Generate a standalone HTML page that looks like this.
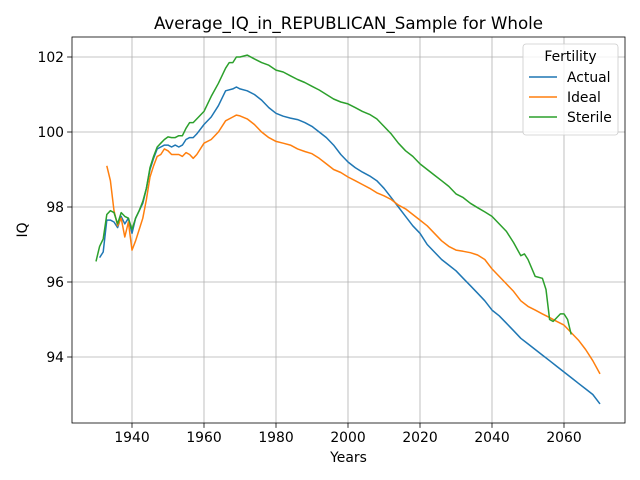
<!DOCTYPE html>
<html><head><meta charset="utf-8"><style>
body{margin:0;background:#fff}
svg{display:block;font-family:"DejaVu Sans","Liberation Sans",sans-serif}
</style></head><body>
<svg id="chart" width="640" height="480" viewBox="0 0 640 480"></svg>
<script>
const actualYears=[1931,1932,1933,1934,1935,1936,1937,1938,1939,1940,1941,1942,1943,1944,1945,1946,1947,1948,1949,1950,1951,1952,1953,1954,1955,1956,1957,1958,1960,1962,1964,1966,1968,1969,1970,1972,1974,1976,1978,1980,1982,1984,1986,1988,1990,1992,1994,1996,1998,2000,2002,2004,2006,2008,2010,2012,2014,2016,2018,2020,2022,2024,2026,2028,2030,2032,2034,2036,2038,2040,2042,2044,2046,2048,2050,2052,2054,2056,2058,2060,2062,2064,2066,2068,2070];
const actualValues=[96.65,96.8,97.65,97.65,97.6,97.45,97.75,97.55,97.7,97.3,97.7,97.9,98.1,98.5,99.0,99.3,99.55,99.6,99.65,99.65,99.6,99.65,99.6,99.65,99.8,99.85,99.85,99.95,100.2,100.4,100.7,101.1,101.15,101.2,101.15,101.1,101.0,100.85,100.65,100.5,100.42,100.37,100.33,100.25,100.15,100.0,99.85,99.65,99.4,99.2,99.05,98.93,98.83,98.7,98.5,98.25,98.0,97.75,97.5,97.3,97.0,96.8,96.6,96.45,96.3,96.1,95.9,95.7,95.5,95.25,95.1,94.9,94.7,94.5,94.35,94.2,94.05,93.9,93.75,93.6,93.45,93.3,93.15,93.0,92.75];
const idealYears=[1933,1934,1935,1936,1937,1938,1939,1940,1941,1942,1943,1944,1945,1946,1947,1948,1949,1950,1951,1952,1953,1954,1955,1956,1957,1958,1960,1962,1964,1966,1968,1969,1970,1972,1974,1976,1978,1980,1982,1984,1986,1988,1990,1992,1994,1996,1998,2000,2002,2004,2006,2008,2010,2012,2014,2016,2018,2020,2022,2024,2026,2028,2030,2032,2034,2036,2038,2040,2042,2044,2046,2048,2050,2052,2054,2056,2058,2060,2062,2064,2066,2068,2070];
const idealValues=[99.1,98.7,97.9,97.5,97.7,97.2,97.6,96.85,97.1,97.4,97.7,98.2,98.8,99.1,99.35,99.4,99.55,99.5,99.4,99.4,99.4,99.35,99.45,99.4,99.3,99.4,99.7,99.8,100.0,100.3,100.4,100.45,100.43,100.35,100.2,100.0,99.85,99.75,99.7,99.65,99.55,99.48,99.42,99.3,99.15,99.0,98.92,98.8,98.7,98.6,98.5,98.38,98.3,98.2,98.05,97.95,97.8,97.65,97.5,97.3,97.1,96.95,96.85,96.82,96.78,96.72,96.6,96.35,96.15,95.95,95.75,95.5,95.35,95.25,95.15,95.05,94.95,94.85,94.65,94.45,94.2,93.9,93.55];
const sterileYears=[1930,1931,1932,1933,1934,1935,1936,1937,1938,1939,1940,1941,1942,1943,1944,1945,1946,1947,1948,1949,1950,1951,1952,1953,1954,1955,1956,1957,1958,1960,1962,1964,1966,1967,1968,1969,1970,1972,1974,1976,1978,1980,1982,1984,1986,1988,1990,1992,1994,1996,1998,2000,2002,2004,2006,2008,2010,2012,2014,2016,2018,2020,2022,2024,2026,2028,2030,2032,2034,2036,2038,2040,2042,2044,2046,2048,2049,2050,2052,2054,2055,2056,2057,2058,2059,2060,2061,2062];
const sterileValues=[96.55,96.95,97.15,97.8,97.9,97.85,97.55,97.85,97.75,97.7,97.4,97.7,97.9,98.15,98.5,99.05,99.35,99.6,99.7,99.8,99.87,99.85,99.85,99.9,99.9,100.1,100.25,100.25,100.35,100.55,100.95,101.3,101.7,101.85,101.85,102.0,102.0,102.05,101.95,101.85,101.78,101.65,101.6,101.5,101.4,101.32,101.22,101.12,101.0,100.88,100.8,100.75,100.65,100.55,100.47,100.35,100.15,99.95,99.7,99.5,99.35,99.15,99.0,98.85,98.7,98.55,98.35,98.25,98.1,97.98,97.87,97.75,97.55,97.35,97.05,96.7,96.75,96.6,96.15,96.1,95.8,95.0,94.95,95.05,95.15,95.15,95.0,94.6];
const xTicks=[1940,1960,1980,2000,2020,2040,2060];
const yTicks=[94,96,98,100,102];
const seriesNames=["Actual","Ideal","Sterile"];

const NS="http://www.w3.org/2000/svg";
const svg=document.getElementById('chart');
const L=72,R=625,T=37,B=423;
const xs=y=>132+(y-1940)*3.6;
const ys=v=>57+(102-v)*37.5;
function el(tag,attrs,parent){const e=document.createElementNS(NS,tag);for(const k in attrs)e.setAttribute(k,attrs[k]);(parent||svg).appendChild(e);return e;}

const grid=el('g',{});


xTicks.forEach(t=>{
  const x=xs(t);
  el('line',{x1:x,x2:x,y1:T,y2:B,stroke:'#b0b0b0','stroke-width':0.8},grid);
  el('line',{x1:x,x2:x,y1:B,y2:B+4.9,stroke:'#000','stroke-width':0.8});
  const tx=el('text',{x:x,y:B+19,'font-size':13.9,'text-anchor':'middle',fill:'#000'});
  tx.textContent=t;
  
  
});
yTicks.forEach(t=>{
  const y=ys(t);
  el('line',{x1:L,x2:R,y1:y,y2:y,stroke:'#b0b0b0','stroke-width':0.8},grid);
  el('line',{x1:L-4.9,x2:L,y1:y,y2:y,stroke:'#000','stroke-width':0.8});
  const ty=el('text',{x:L-8,y:y+5,'font-size':13.9,'text-anchor':'end',fill:'#000'});
  ty.textContent=t;
  
  
});

const colors=['#1f77b4','#ff7f0e','#2ca02c'];
const data=[[actualYears,actualValues],[idealYears,idealValues],[sterileYears,sterileValues]];
data.forEach((d,i)=>{
  const pts=d[0].map((yr,j)=>xs(yr).toFixed(1)+','+ys(d[1][j]).toFixed(1)).join(' ');
  const p=el('polyline',{points:pts,fill:'none',stroke:colors[i],'stroke-width':1.5,'stroke-linejoin':'round'});
  
  
});

const frame=el('rect',{x:L,y:T,width:R-L,height:B-T,fill:'none',stroke:'#000','stroke-width':0.8});



const title=el('text',{x:(L+R)/2,y:29,'font-size':16.7,'text-anchor':'middle',fill:'#000'});
title.textContent='Average_IQ_in_REPUBLICAN_Sample for Whole';


const xl=el('text',{x:(L+R)/2,y:462,'font-size':13.9,'text-anchor':'middle',fill:'#000'});
xl.textContent='Years';


const yl=el('text',{x:0,y:0,'font-size':13.9,'text-anchor':'middle',fill:'#000',transform:'translate(27,230) rotate(-90)'});
yl.textContent='IQ';



const lg=el('g',{});


el('rect',{x:523,y:44,width:95,height:91,rx:3,fill:'#fff','fill-opacity':0.8,stroke:'#ccc','stroke-width':0.8},lg);
const lt=el('text',{x:570.5,y:61,'font-size':13.9,'text-anchor':'middle',fill:'#000'},lg);
lt.textContent='Fertility';


seriesNames.forEach((n,i)=>{
  const y=77+i*20;
  const g=el('g',{},lg);
  
  
  el('line',{x1:529,x2:557,y1:y,y2:y,stroke:colors[i],'stroke-width':1.5},g);
  const t=el('text',{x:567,y:y+5,'font-size':13.9,fill:'#000'},g);
  t.textContent=n;
});
</script>
</body></html>
